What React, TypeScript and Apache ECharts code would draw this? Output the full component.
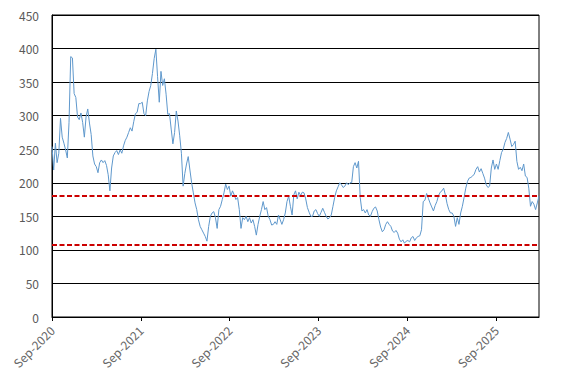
import React, { useEffect, useRef } from "react";
import * as echarts from "echarts";

// Weekly values starting 2020-09-01
const startDate = Date.UTC(2020, 8, 1);
const stepDays = 7;
const values: number[] = [
  254, 219, 259, 230, 244, 296, 268, 259, 249, 237,
  290, 388, 386, 333, 327, 298, 294, 304, 290, 268,
  298, 310, 289, 272, 240, 228, 224, 215, 230, 234,
  230, 233, 226, 212, 188, 222, 240, 245, 248, 242,
  249, 244, 255, 263, 268, 275, 282, 277, 291, 303,
  305, 318, 318, 320, 303, 300, 322, 336, 345, 363,
  385, 399, 358, 320, 366, 345, 355, 332, 302, 303,
  280, 258, 275, 307, 292, 270, 244, 195, 214, 228,
  239, 219, 200, 185, 170, 160, 145, 135, 130, 125,
  120, 113, 135, 150, 155, 157, 148, 132, 160, 165,
  175, 185, 198, 190, 195, 180, 188, 182, 175, 178,
  160, 132, 148, 145, 150, 142, 148, 140, 145, 135,
  122, 138, 150, 160, 172, 160, 163, 150, 145, 137,
  138, 142, 138, 152, 145, 138, 145, 155, 172, 180,
  165, 152, 182, 188, 176, 186, 181, 186, 185, 176,
  163, 156, 150, 150, 158, 160, 154, 150, 156, 162,
  156, 150, 146, 148, 152, 165, 178, 188, 194, 200,
  197, 193, 195, 200, 197, 200, 200, 224, 230, 222,
  232, 178, 158, 160, 155, 160, 152, 150, 157, 162,
  164, 158, 145, 134, 127, 130, 138, 142, 138, 135,
  128, 126, 129, 125, 116, 112, 115, 110, 113, 114,
  112, 118, 120, 114, 118, 120, 121, 130, 172, 174,
  184, 177, 170, 164, 158, 166, 172, 181, 186, 188,
  192, 182, 169, 160, 155, 155, 150, 135, 148, 138,
  155, 165, 178, 192, 202, 207, 208, 210, 213, 220,
  224, 216, 221, 214, 207, 197, 193, 195, 222, 234,
  220, 228, 220, 233, 245, 250, 260, 266, 275, 265,
  254, 257, 262, 232, 220, 223, 218, 228, 210, 208,
  192, 165, 172, 168, 160, 170, 180,
];
const thresholds: number[] = [180, 108];
const tickYears: number[] = [2020, 2021, 2022, 2023, 2024, 2025];
const monthNames = ["Jan", "Feb", "Mar", "Apr", "May", "Jun", "Jul", "Aug", "Sep", "Oct", "Nov", "Dec"];

const DAY = 86400000;

export default function App() {
  const ref = useRef<HTMLDivElement>(null);
  useEffect(() => {
    if (!ref.current) return;
    const chart = echarts.init(ref.current, undefined, { renderer: "svg" });
    const data = values.map((v, i) => [startDate + i * stepDays * DAY, v]);
    const tickVals = tickYears.map((y) => Date.UTC(y, 8, 1));
    const endDate = startDate + (values.length - 1) * stepDays * DAY;
    const font = '"Noto Sans CJK JP", "Noto Sans", sans-serif';
    chart.setOption({
      animation: false,
      grid: {
        left: 52,
        right: 28,
        top: 15,
        bottom: 65,
        show: true,
        borderColor: "#000",
        borderWidth: 1,
        containLabel: false,
      },
      xAxis: {
        type: "value",
        min: startDate,
        max: endDate,
        axisLine: { show: true, lineStyle: { color: "#000", width: 1 } },
        axisTick: {
          show: true,
          length: 4,
          lineStyle: { color: "#000" },
          customValues: tickVals,
        },
        axisLabel: {
          customValues: tickVals,
          rotate: 45,
          margin: 11,
          color: "#666666",
          fontSize: 12,
          fontFamily: font,
          formatter: (v: number) => {
            const d = new Date(v);
            return `${monthNames[d.getUTCMonth()]}-${d.getUTCFullYear()}`;
          },
        },
        splitLine: { show: false },
      },
      yAxis: {
        type: "value",
        min: 0,
        max: 450,
        interval: 50,
        axisLine: { show: true, lineStyle: { color: "#000", width: 1 } },
        axisTick: { show: false },
        axisLabel: { color: "#595959", fontSize: 12, fontFamily: font, margin: 13 },
        splitLine: { show: true, lineStyle: { color: "#000", width: 1 } },
      },
      series: [
        {
          type: "line",
          data,
          showSymbol: false,
          symbol: "none",
          lineStyle: { color: "#5F98CC", width: 1 },
          markLine: {
            silent: true,
            symbol: "none",
            label: { show: false },
            lineStyle: { color: "#CC0000", width: 2, type: [5, 2.5] },
            data: thresholds.map((t) => ({ yAxis: t })),
          },
        },
      ],
    });
    return () => chart.dispose();
  }, []);
  return (
    <div
      ref={ref}
      style={{ position: "absolute", left: 0, top: 0, width: 567, height: 382, background: "#fff" }}
    />
  );
}
